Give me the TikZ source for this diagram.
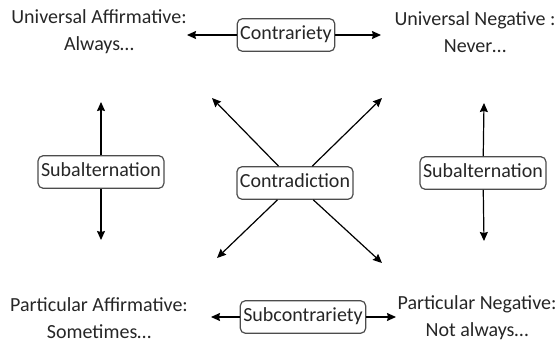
\documentclass[tikz,border=0pt]{standalone}
\usepackage{fontspec}
\setmainfont{Carlito}
\usetikzlibrary{arrows.meta}

\begin{document}
\begin{tikzpicture}[
            x = 1pt, y = -1pt, % one unit per pixel, y downwards
            > = {Stealth[length=9pt,width=8pt,inset=1pt]}, % arrow head style
            line width = 1.2pt,
            every node/.style = {font=\fontsize{20}{27}\selectfont, text=black!85},
            relation/.style = {shape=rectangle, draw=black!70, rounded corners=5pt,
                               fill=white, inner xsep=3pt, inner ysep=7pt,
                               text height=14pt, text depth=4.5pt, line width=1.2pt},
            corner/.style = {align=center}
        ]
    \useasboundingbox (0,0) rectangle (558,346);

    % the four propositions
    \node[corner] (ua) at (99,32)  {Universal Affirmative:\\Always…};
    \node[corner] (un) at (475,32) {Universal Negative :\\Never…};
    \node[corner] (pa) at (99,318) {Particular Affirmative:\\Sometimes…};
    \node[corner] (pn) at (477,318) {Particular Negative:\\Not always…};

    % the relations
    \node[relation] (contrariety)    at (286,35)  {Contrariety};
    \node[relation] (subcontrariety) at (303,317) {Subcontrariety};
    \node[relation] (subaltleft)     at (101,172) {Subalternation};
    \node[relation] (subaltright)    at (483,173) {Subalternation};
    \node[relation] (contradiction)  at (295,183) {Contradiction};

    % arrow tips
    \coordinate (c-l)  at (187,35);
    \coordinate (c-r)  at (381,35);
    \coordinate (s-l)  at (211,317);
    \coordinate (s-r)  at (396,317);
    \coordinate (al-t) at (101,102);
    \coordinate (al-b) at (101,240);
    \coordinate (ar-t) at (484,103);
    \coordinate (ar-b) at (484,241);
    \coordinate (d-tl) at (212,98);
    \coordinate (d-tr) at (382,98);
    \coordinate (d-bl) at (217,258);
    \coordinate (d-br) at (382,263);

    \path[->] (contrariety)    edge (c-l)  edge (c-r);
    \path[->] (subcontrariety) edge (s-l)  edge (s-r);
    \path[->] (subaltleft)     edge (al-t) edge (al-b);
    \path[->] (subaltright)    edge (ar-t) edge (ar-b);
    \path[->] (contradiction)  edge (d-tl) edge (d-tr)
                               edge (d-bl) edge (d-br);
\end{tikzpicture}
\end{document}
